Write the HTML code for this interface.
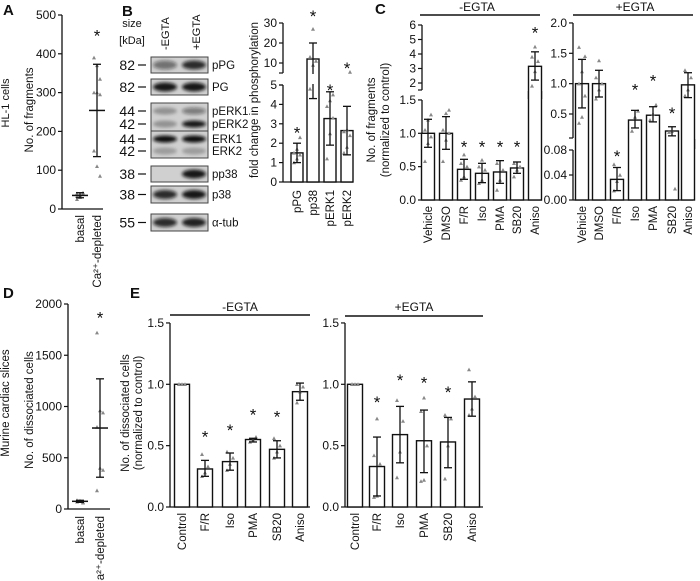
<!DOCTYPE html>
<html><head><meta charset="utf-8"><style>
html,body{margin:0;padding:0;background:#fff;}
svg{display:block;font-family:"Liberation Sans",Arial,sans-serif;}
</style></head><body>
<svg id="fig" width="700" height="581" viewBox="0 0 700 581">
<defs><filter id="blur" x="-20%" y="-50%" width="140%" height="200%"><feGaussianBlur stdDeviation="1.6"/></filter></defs>
</svg>
<script>
// ---- Panel A data ----
const aCats = ["basal","Ca2+-depleted"];
const aMeans = [35, 254];
const aLo = [29, 135];
const aHi = [42, 373];
const aPts = [[40,30,38,25,35,42,33],[390,370,335,300,300,295,150,110,85]];
const aTicks = [0,100,200,300,400,500];
// ---- Panel D data ----
const dCats = ["basal","Ca2+-depleted"];
const dMeans = [75, 790];
const dLo = [65, 310];
const dHi = [85, 1270];
const dPts = [[70,80,65,85,75,60],[1720,960,940,800,400,380,180]];
const dTicks = [0,500,1000,1500,2000];
// ---- Panel B bar data ----
const bCats = ["pPG","pp38","pERK1","pERK2"];
const bMeans = [1.5, 12, 3.27, 2.65];
const bLo = [1.0, 4.3, 1.9, 1.4];
const bHi = [2.0, 20, 4.65, 3.9];
const bStar = [2.7, 35, 4.9, 9];
const bPts = [[1.0,1.2,1.4,1.5,1.7,2.3],[4.8,9,11,13,27],[1.2,2.5,3.3,3.9,4.2,4.5],[1.5,1.8,2.4,2.6,2.7,5.5]];
const bTicksLow = [0,1,2,3,4,5];
const bTicksUp = [10,20,30];
// ---- Panel C data ----
const cCats = ["Vehicle","DMSO","F/R","Iso","PMA","SB20","Aniso"];
const cLMeans = [1.0,1.0,0.46,0.40,0.42,0.48,3.15];
const cLLo = [0.79,0.76,0.31,0.26,0.25,0.40,2.2];
const cLHi = [1.21,1.25,0.61,0.55,0.59,0.57,4.15];
const cLStar = [null,null,0.85,0.85,0.85,0.85,5.7];
const cLPts = [[0.58,0.85,0.95,1.05,1.2,1.28],[0.58,0.9,1.0,1.05,1.3,1.35],[0.3,0.35,0.5,0.55,0.68],[0.25,0.3,0.45,0.5,0.6],[0.15,0.3,0.45,0.55],[0.35,0.45,0.5,0.55],[1.8,2.8,3.5,3.8,4.5]];
const cLTicksLow = [0.0,0.5,1.0,1.5];
const cLTicksUp = [2,3,4,5,6];
const cRMeans = [1.0,1.0,0.033,0.40,0.48,0.22,0.98];
const cRLo = [0.6,0.78,0.015,0.27,0.37,0.14,0.77];
const cRHi = [1.4,1.22,0.052,0.56,0.62,0.29,1.18];
const cRStar = [null,null,0.075,0.95,1.1,0.57,null];
const cRPts = [[0.35,0.45,0.8,1.0,1.2,1.45,1.6],[0.75,0.9,1.0,1.1,1.38],[0.015,0.03,0.04,0.057],[0.22,0.45,0.55],[0.4,0.5,0.65],[0.2,0.22,0.018],[0.8,0.9,1.1,1.22]];
const cRTicksLow = [0.00,0.04,0.08];
const cRTicksUp = [0.5,1.0,1.5,2.0];
// ---- Panel E data ----
const eCats = ["Control","F/R","Iso","PMA","SB20","Aniso"];
const eLMeans = [1.0,0.31,0.37,0.55,0.47,0.94];
const eLLo = [1.0,0.25,0.30,0.53,0.40,0.87];
const eLHi = [1.0,0.38,0.44,0.56,0.54,1.01];
const eLStar = [null,0.60,0.65,0.78,0.76,null];
const eLPts = [[1,1,1,1],[0.25,0.28,0.33,0.43],[0.3,0.35,0.4,0.45],[0.53,0.55,0.57],[0.40,0.45,0.5,0.56],[0.85,0.94,0.98,1.0]];
const eRMeans = [1.0,0.33,0.59,0.54,0.53,0.88];
const eRLo = [1.0,0.09,0.36,0.28,0.32,0.74];
const eRHi = [1.0,0.57,0.82,0.79,0.73,1.02];
const eRStar = [null,0.88,1.06,1.04,0.96,null];
const eRPts = [[1,1,1,1],[0.08,0.09,0.35,0.42,0.72],[0.24,0.45,0.7,0.87],[0.21,0.22,0.5,0.78,0.89],[0.23,0.5,0.72,0.75],[0.75,0.8,0.9,1.12]];
const eTicks = [0.0,0.5,1.0,1.5];

const NS="http://www.w3.org/2000/svg";
const svg=document.getElementById('fig');
function mk(tag,attrs,parent,txt){const e=document.createElementNS(NS,tag);for(const k in attrs)e.setAttribute(k,attrs[k]);if(txt!==undefined)e.textContent=txt;(parent||svg).appendChild(e);return e;}
function line(x1,y1,x2,y2,w){return mk('line',{x1,y1,x2,y2,stroke:'#111','stroke-width':w||1.3});}
function txt(x,y,s,size,anchor,rot){const t=mk('text',{x,y,'font-size':size||11,'text-anchor':anchor||'middle',fill:'#111'},svg,s);if(rot)t.setAttribute('transform','rotate(-90 '+x+' '+y+')');return t;}
function tri(x,y){const p=mk('path',{d:`M${x-2},${y+1.7}L${x+2},${y+1.7}L${x},${y-2}Z`,fill:'#888'});return p;}
function star(x,y){const t=txt(x,y+9,'*',17);}
function errbar(x,lo,hi,w){line(x,lo,x,hi,1.3);line(x-w,lo,x+w,lo,1.3);line(x-w,hi,x+w,hi,1.3);}
function panelLabel(x,y,s){const t=txt(x,y,s,15,'start');t.setAttribute('font-weight','bold');}

function bars(cfg){
  const {xs,means,lo,hi,stars,pts,y,bw,name}=cfg;
  xs.forEach((x,i)=>{
    const r=mk('rect',{x:x-bw/2,y:y(means[i]),width:bw,height:y(0)-y(means[i]),fill:'#fff',stroke:'#111','stroke-width':1.4});
    
    
    pts[i].forEach((v,j)=>tri(x+((j%3)-1)*3,y(v)));
    if(lo[i]!==hi[i])errbar(x,y(lo[i]),y(hi[i]),4);
  });
}
function starsDraw(xs,stars,y){xs.forEach((x,i)=>{if(stars[i]!=null)star(x,y(stars[i]));});}
function yticks(ax,vals,y,fmt,size){vals.forEach(v=>{line(ax-4,y(v),ax,y(v),1.2);txt(ax-6,y(v)+4,fmt(v),size||12,'end');});}
function xlabels(xs,cats,yTop,size){xs.forEach((x,i)=>{const t=txt(x+4,yTop,cats[i],size||11.5,'end',true);});}

// ===== Panel A =====
panelLabel(3,15,'A');
const yA=v=>209-v*194/500;
txt(9,103,'HL-1 cells',11,'middle',true);
txt(33,110,'No. of fragments',11.5,'middle',true);
line(62,yA(500),62,209);line(62,209,103,209);
yticks(62,aTicks,yA,v=>v);
[80,97].forEach((x,i)=>{aPts[i].forEach((v,j)=>tri(x+((j%3)-1)*3,yA(v)));line(x-8,yA(aMeans[i]),x+8,yA(aMeans[i]),1.5);errbar(x,yA(aLo[i]),yA(aHi[i]),4);});
star(97,yA(455));
xlabels([80,97],['basal','Ca²⁺-depleted'],215);

// ===== Panel B blots =====
panelLabel(122,16,'B');
txt(132,27,'size',11);txt(132,44,'[kDa]',11);
txt(169,50,'-EGTA',11,'start',true);txt(200,50,'+EGTA',11,'start',true);
const blots=[
 {y:57,h:16,l:['82'],r:['pPG'],b:[[0.5,0.5],[0.85,0.85]]},
 {y:79,h:16,l:['82'],r:['PG'],b:[[0.95,0.5],[0.95,0.5]]},
 {y:103,h:28,l:['44','42'],r:['pERK1','pERK2'],b:[[0.3,0.3],[0.45,0.95]]},
 {y:131,h:27,l:['44','42'],r:['ERK1','ERK2'],b:[[1,0.25],[1,0.25]]},
 {y:166,h:16,l:['38'],r:['pp38'],b:[[0.05,0.05],[0.95,0.95]]},
 {y:186,h:17,l:['38'],r:['p38'],b:[[0.85,0.85],[0.95,0.95]]},
 {y:214,h:17,l:['55'],r:['α-tub'],b:[[0.85,0.85],[0.9,0.9]]}
];
blots.forEach((bl,k)=>{
  const g=mk('g',{});
  mk('rect',{x:151,y:bl.y,width:57,height:bl.h,fill:'#d0d0d0',stroke:'#444','stroke-width':1},g);
  const n=bl.l.length;
  bl.l.forEach((s,i)=>{const yy=bl.y+(n===1?bl.h/2:(i===0?8:bl.h-7));
    txt(135,yy+5,s,14,'end');line(138,yy,146,yy,1.2);
    txt(212,yy+4,bl.r[i],11.5,'start');
    [165,194].forEach((cx,li)=>{const a=bl.b[li][i];if(a>0.05)mk('ellipse',{cx,cy:yy,rx:12,ry:n===1?4.5:3.5,fill:'#111','fill-opacity':a,filter:'url(#blur)'},g);});
  });
});

// ===== Panel B bar chart =====
const yB=v=>v<=5?182-v*19.4:73-(v-5)*2;
txt(258,100,'fold change in phosphorylation',11.5,'middle',true);
line(283,23,283,73);line(283,85,283,182);line(283,182,353,182);
yticks(283,bTicksLow,yB,v=>v);
yticks(283,bTicksUp,yB,v=>v);
line(279,73,283,73,1.2);line(279,85,283,85,1.2);
const bx=[297,313,330,347];
bars({xs:bx,means:bMeans,lo:bLo,hi:bHi,stars:bStar,pts:bPts,y:yB,bw:12,name:'panel-b'});
mk('rect',{x:284,y:74,width:70,height:10,fill:'#fff'});
line(307,74,307,84,1.4);line(319,74,319,84,1.4);
starsDraw(bx,bStar,yB);
xlabels(bx,bCats,190);

// ===== Panel C =====
panelLabel(375,14,'C');
txt(375,120,'No. of fragments',11.5,'middle',true);
txt(389,120,'(normalized to control)',11.5,'middle',true);
txt(477,11,'-EGTA',12);line(420,15,540,15,1.5);
const yCL=v=>v<=1.5?200-v*66.7:83-(v-2)*14.5;
line(422,25,422,90);line(422,100,422,200);line(422,200,542,200);
line(418,90,422,90,1.2);
yticks(422,cLTicksLow,yCL,v=>v.toFixed(1));
yticks(422,cLTicksUp,yCL,v=>v);
const cLx=[428,446,464,482,500,517,535];
bars({xs:cLx,means:cLMeans,lo:cLLo,hi:cLHi,stars:cLStar,pts:cLPts,y:yCL,bw:13,name:'panel-c-minus'});
mk('rect',{x:528,y:91,width:14,height:8,fill:'#fff'});line(528.5,91,528.5,99,1.4);line(541.5,91,541.5,99,1.4);
starsDraw(cLx,cLStar,yCL);
xlabels(cLx,cCats,206);

txt(635,11,'+EGTA',12);line(573,15,693,15,1.5);
const yCR=v=>v<=0.08?200-v*625:(v<0.105?144:114-(v-0.5)*60.7);
line(573,23,573,138);line(573,150,573,200);line(573,200,693,200);
line(569,138,573,138,1.2);
yticks(573,cRTicksLow,yCR,v=>v.toFixed(2));
yticks(573,cRTicksUp,yCR,v=>v.toFixed(1));
const cRx=[582,599,617,635,653,672,688];
bars({xs:cRx,means:cRMeans,lo:cRLo,hi:cRHi,stars:cRStar,pts:cRPts,y:yCR,bw:13,name:'panel-c-plus'});
mk('rect',{x:574,y:139,width:120,height:10,fill:'#fff'});
cRx.forEach((x,i)=>{if(cRMeans[i]>0.1){line(x-6.5,139,x-6.5,149,1.4);line(x+6.5,139,x+6.5,149,1.4);}});
starsDraw(cRx,cRStar,yCR);
xlabels(cRx,cCats,206);

// ===== Panel D =====
panelLabel(3,298,'D');
const yD=v=>509-v*205/2000;
txt(9,403,'Murine cardiac slices',11.5,'middle',true);
txt(33,410,'No. of dissociated cells',11.5,'middle',true);
line(68,yD(2000),68,509);line(68,509,110,509);
yticks(68,dTicks,yD,v=>v);
[80,100].forEach((x,i)=>{dPts[i].forEach((v,j)=>tri(x+((j%3)-1)*3,yD(v)));line(x-8,yD(dMeans[i]),x+8,yD(dMeans[i]),1.5);errbar(x,yD(dLo[i]),yD(dHi[i]),4);});
star(100,yD(1900));
xlabels([80,100],['basal','Ca²⁺-depleted'],516);

// ===== Panel E =====
panelLabel(130,298,'E');
txt(129,413,'No. of dissociated cells',11.5,'middle',true);
txt(142,413,'(normalized to control)',11.5,'middle',true);
const yE=v=>507-v*122.7;
txt(240,311,'-EGTA',12);line(170,315,310,315,1.5);
line(170,yE(1.5),170,507);line(170,507,310,507);
yticks(170,eTicks,yE,v=>v.toFixed(1));
const eLx=[182,205,230,253,277,300];
bars({xs:eLx,means:eLMeans,lo:eLLo,hi:eLHi,stars:eLStar,pts:eLPts,y:yE,bw:15,name:'panel-e-minus'});
starsDraw(eLx,eLStar,yE);
xlabels(eLx,eCats,513);

txt(414,311,'+EGTA',12);line(345,316,483,316,1.5);
line(345,yE(1.5),345,507);line(345,507,483,507);
yticks(345,eTicks,yE,v=>v.toFixed(1));
const eRx=[355,377,400,424,448,472];
bars({xs:eRx,means:eRMeans,lo:eRLo,hi:eRHi,stars:eRStar,pts:eRPts,y:yE,bw:15,name:'panel-e-plus'});
starsDraw(eRx,eRStar,yE);
xlabels(eRx,eCats,513);
</script>
</body></html>
